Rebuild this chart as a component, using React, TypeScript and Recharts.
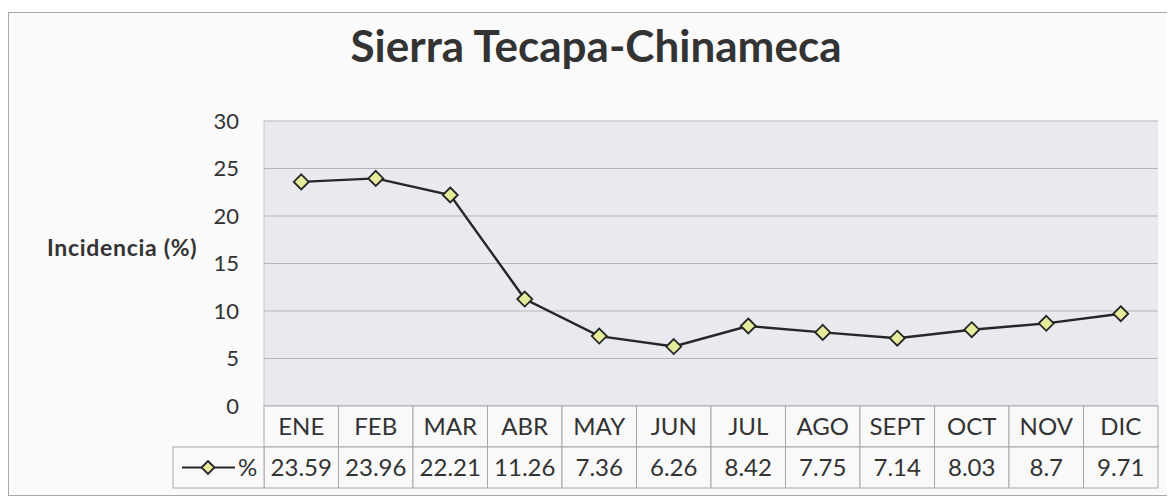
import React from "react"
import { CartesianGrid, Line, LineChart, XAxis, YAxis } from "recharts"

const months = ["ENE", "FEB", "MAR", "ABR", "MAY", "JUN", "JUL", "AGO", "SEPT", "OCT", "NOV", "DIC"]
const incidence = [23.59, 23.96, 22.21, 11.26, 7.36, 6.26, 8.42, 7.75, 7.14, 8.03, 8.7, 9.71]
const valueLabels = ["23.59", "23.96", "22.21", "11.26", "7.36", "6.26", "8.42", "7.75", "7.14", "8.03", "8.7", "9.71"]
const yTicks = [0, 5, 10, 15, 20, 25, 30]

const data = months.map((mes, i) => ({ mes, pct: incidence[i], label: valueLabels[i] }))

const CHART_W = 1158
const CHART_H = 482
const MARGIN = { top: 108, right: 9, left: 174, bottom: 0 }
const Y_AXIS_W = 81
const PLOT_H = 285
const COL_W = (CHART_W - MARGIN.left - Y_AXIS_W - MARGIN.right) / months.length
const ROW1 = 41
const ROW2 = 41
const LEGEND_W = 91
const FONT = "Lato, 'Open Sans', sans-serif"
const BORDER = "#a8a8a8"
const TEXT = "#333"
const DOT_FILL = "#e6eb9c"
const LINE = "#262626"

function Diamond({ cx, cy, r = 7.5 }: { cx: number; cy: number; r?: number }) {
  return (
    <polygon
      points={`${cx},${cy - r} ${cx + r},${cy} ${cx},${cy + r} ${cx - r},${cy}`}
      fill={DOT_FILL}
      stroke={LINE}
      strokeWidth={1.8}
    />
  )
}

// category + value table drawn under the plot, one column per tick
function TableTick(props: any) {
  const { x, y, index } = props
  const top = y
  const left = x - COL_W / 2
  const row = data[index]
  const mid2 = top + ROW1 + ROW2 / 2
  return (
    <g fontFamily={FONT} fill={TEXT}>
      <rect x={left} y={top} width={COL_W} height={ROW1} fill="#f9f9f9" stroke={BORDER} />
      <rect x={left} y={top + ROW1} width={COL_W} height={ROW2} fill="#f9f9f9" stroke={BORDER} />
      <text x={x} y={top + ROW1 / 2 + 8} textAnchor="middle" fontSize={24} fill={TEXT}>
        {row.mes}
      </text>
      <text x={x} y={mid2 + 8} textAnchor="middle" fontSize={24} fill={TEXT}>
        {row.label}
      </text>
      {index === 0 && (
        <g>
          <rect x={left - LEGEND_W} y={top + ROW1} width={LEGEND_W} height={ROW2} fill="#f9f9f9" stroke={BORDER} />
          <line x1={left - LEGEND_W + 9} x2={left - LEGEND_W + 62} y1={mid2} y2={mid2} stroke={LINE} strokeWidth={2.2} />
          <Diamond cx={left - LEGEND_W + 35} cy={mid2} r={6.5} />
          <text x={left - LEGEND_W + 65} y={mid2 + 8} fontSize={24} fill={TEXT}>
            %
          </text>
        </g>
      )}
    </g>
  )
}

export default function App() {
  return (
    <div style={{ paddingTop: 4 }}>
      <div
        style={{
          position: "relative",
          width: CHART_W + 2,
          height: CHART_H + 2,
          boxSizing: "border-box",
          border: `1px solid ${BORDER}`,
          background: "#fafafa",
        }}
      >
        <div
          style={{
            position: "absolute",
            top: 10,
            left: 0,
            width: 1174,
            textAlign: "center",
            fontFamily: FONT,
            fontWeight: 700,
            fontSize: 44,
            lineHeight: "44px",
            color: TEXT,
          }}
        >
          Sierra Tecapa-Chinameca
        </div>
        <div
          style={{
            position: "absolute",
            top: 221,
            left: 38,
            fontFamily: FONT,
            fontWeight: 700,
            fontSize: 23,
            letterSpacing: 0.7,
            lineHeight: "26px",
            color: TEXT,
          }}
        >
          Incidencia (%)
        </div>
        <LineChart width={CHART_W} height={CHART_H} data={data} margin={MARGIN}>
          <CartesianGrid vertical={false} stroke="#b4b6bc" fill="#e9eaef" />
          <XAxis
            dataKey="mes"
            scale="band"
            height={CHART_H - MARGIN.top - PLOT_H - MARGIN.bottom}
            axisLine={false}
            tickLine={false}
            tickSize={0}
            tickMargin={0}
            interval={0}
            tick={<TableTick />}
          />
          <YAxis
            width={Y_AXIS_W}
            domain={[0, 30]}
            ticks={yTicks}
            axisLine={{ stroke: "#c4c6cc" }}
            tickLine={false}
            tickSize={0}
            tickMargin={25}
            tick={{ fontFamily: FONT, fontSize: 22, fill: TEXT }}
          />
          <Line
            type="linear"
            dataKey="pct"
            stroke={LINE}
            strokeWidth={2.4}
            dot={(p: any) => <Diamond key={p.index} cx={p.cx} cy={p.cy} />}
            activeDot={false}
            isAnimationActive={false}
          />
        </LineChart>
      </div>
    </div>
  )
}
